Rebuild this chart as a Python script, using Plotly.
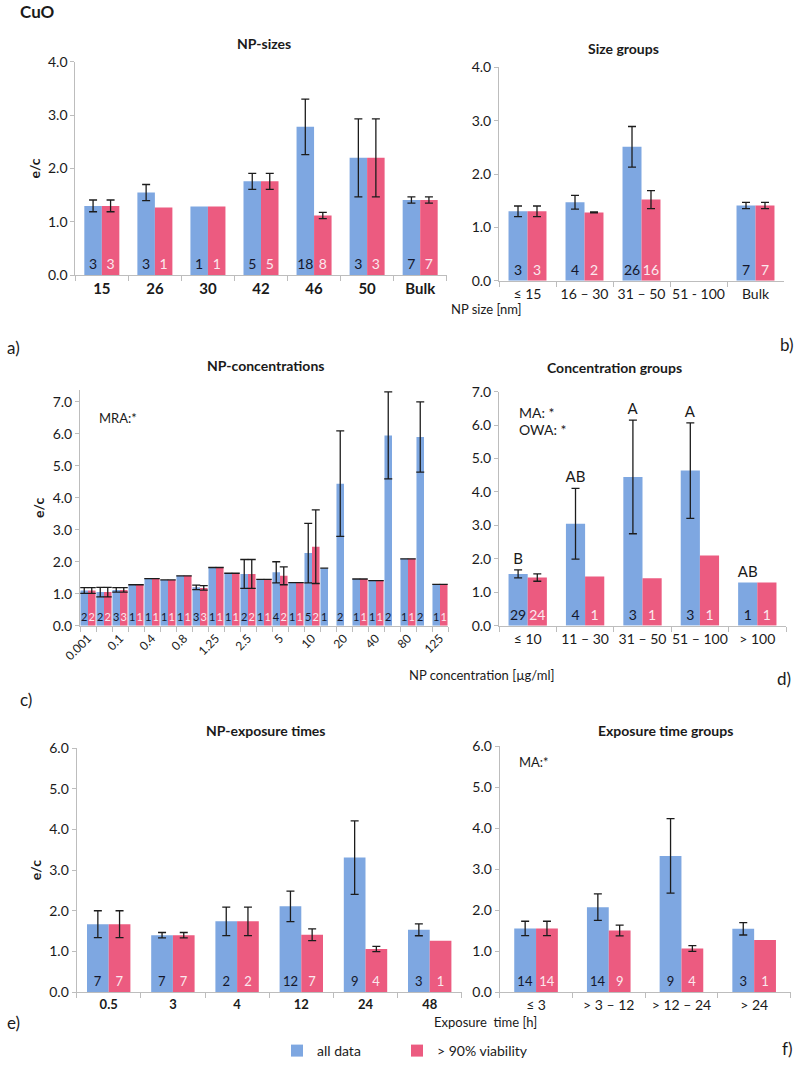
import plotly.graph_objects as go
from plotly.subplots import make_subplots

W, H = 798, 1079
FONT = "Lato"
BLUE = "#7ea7e1"
PINK = "#ec5b80"
INK = "#1a1a1a"
AXIS = "#bdbdbd"

# a) NP-sizes
size_cats = ["15", "26", "30", "42", "46", "50", "Bulk"]
size_all = [1.30, 1.55, 1.29, 1.76, 2.78, 2.20, 1.41]
size_all_err = [0.11, 0.15, None, 0.15, 0.52, 0.73, 0.06]
size_all_n = [3, 3, 1, 5, 18, 3, 7]
size_via = [1.30, 1.27, 1.29, 1.76, 1.12, 2.20, 1.41]
size_via_err = [0.11, None, None, 0.15, 0.06, 0.73, 0.06]
size_via_n = [3, 1, 1, 5, 8, 3, 7]

# b) Size groups
sgrp_cats = ["≤ 15", "16 – 30", "31 – 50", "51 - 100", "Bulk"]
sgrp_all = [1.30, 1.47, 2.51, None, 1.41]
sgrp_all_err = [0.10, 0.13, 0.38, None, 0.06]
sgrp_all_n = [3, 4, 26, None, 7]
sgrp_via = [1.30, 1.28, 1.52, None, 1.41]
sgrp_via_err = [0.10, 0.01, 0.17, None, 0.06]
sgrp_via_n = [3, 2, 16, None, 7]

# c) NP-concentrations (every other category labelled in the original)
conc_cats = ["0.001", "0.01", "0.1", "0.2", "0.4", "0.5", "0.8", "1", "1.25", "2",
             "2.5", "4", "5", "8", "10", "15", "20", "30", "40", "50", "80", "100", "125"]
conc_all = [1.10, 1.05, 1.12, 1.28, 1.47, 1.43, 1.56, 1.20, 1.82, 1.64, 1.62, 1.45,
            1.67, 1.35, 2.27, 1.80, 4.44, 1.46, 1.41, 5.95, 2.09, 5.90, 1.29]
conc_all_err = [0.09, 0.15, 0.07, 0, 0, 0, 0, 0.07, 0, 0, 0.45, 0,
                0.33, 0, 0.93, 0, 1.65, 0, 0, 1.36, 0, 1.10, 0]
conc_all_n = [2, 2, 3, 1, 1, 1, 1, 3, 1, 1, 2, 1, 4, 1, 5, 1, 2, 1, 1, 2, 1, 2, 1]
conc_via = [1.10, 1.05, 1.12, 1.28, 1.47, 1.43, 1.56, 1.18, 1.82, 1.64, 1.62, 1.45,
            1.56, 1.35, 2.47, None, None, 1.46, 1.41, None, 2.09, None, 1.29]
conc_via_err = [0.09, 0.15, 0.07, 0, 0, 0, 0, 0.07, 0, 0, 0.45, 0,
                0.28, 0, 1.15, None, None, 0, 0, None, 0, None, 0]
conc_via_n = [2, 2, 3, 1, 1, 1, 1, 3, 1, 1, 2, 1, 2, 1, 2, None, None, 1, 1, None, 1, None, 1]

# d) Concentration groups
cgrp_cats = ["≤ 10", "11 – 30", "31 – 50", "51 – 100", "> 100"]
cgrp_all = [1.55, 3.05, 4.45, 4.64, 1.29]
cgrp_all_err = [0.12, 1.06, 1.70, 1.43, None]
cgrp_all_n = [29, 4, 3, 3, 1]
cgrp_via = [1.44, 1.47, 1.42, 2.10, 1.29]
cgrp_via_err = [0.11, None, None, None, None]
cgrp_via_n = [24, 1, 1, 1, 1]
cgrp_letters = ["B", "AB", "A", "A", "AB"]

# e) NP-exposure times
time_cats = ["0.5", "3", "4", "12", "24", "48"]
time_all = [1.67, 1.40, 1.74, 2.11, 3.31, 1.53]
time_all_err = [0.33, 0.065, 0.35, 0.375, 0.905, 0.145]
time_all_n = [7, 7, 2, 12, 9, 3]
time_via = [1.67, 1.40, 1.74, 1.41, 1.06, 1.26]
time_via_err = [0.33, 0.065, 0.35, 0.145, 0.065, None]
time_via_n = [7, 7, 2, 7, 4, 1]

# f) Exposure time groups
tgrp_cats = ["≤ 3", "> 3 – 12", "> 12 – 24", "> 24"]
tgrp_all = [1.55, 2.07, 3.32, 1.54]
tgrp_all_err = [0.175, 0.325, 0.91, 0.15]
tgrp_all_n = [14, 14, 9, 3]
tgrp_via = [1.55, 1.50, 1.06, 1.27]
tgrp_via_err = [0.175, 0.13, 0.07, None]
tgrp_via_n = [14, 9, 4, 1]


def px(x):
    return x / W


def py(y):
    return 1 - y / H


fig = make_subplots(rows=3, cols=2)


def add_panel(row, col, cats, all_v, all_e, all_n, via_v, via_e, via_n,
              bw, fs, cap, legend=False):
    series = [
        ("all data", all_v, all_e, all_n, BLUE, "#15172b", -bw, "legend"),
        ("> 90% viability", via_v, via_e, via_n, PINK, "#fbe9ee", 0, "legend2"),
    ]
    for name, vals, errs, ns, color, tcol, off, leg in series:
        fig.add_trace(go.Bar(
            x=cats, y=vals, width=bw, offset=off, name=name, legend=leg,
            marker=dict(color=color, line=dict(width=0)),
            text=["" if n is None else str(n) for n in ns],
            textposition="inside", insidetextanchor="start", textangle=0,
            constraintext="none",
            textfont=dict(family=FONT, size=fs, color=tcol),
            showlegend=legend, hoverinfo="skip"), row=row, col=col)
        # error bars only where the original draws them
        keep = [i for i, e in enumerate(errs) if e is not None]
        fig.add_trace(go.Bar(
            x=[cats[i] for i in keep], y=[vals[i] for i in keep],
            width=bw, offset=off,
            marker=dict(color="rgba(0,0,0,0)", line=dict(width=0)),
            showlegend=False, hoverinfo="skip",
            error_y=dict(type="data", array=[errs[i] for i in keep],
                         color="#1c1c1c", thickness=1.3, width=cap)),
            row=row, col=col)


add_panel(1, 1, size_cats, size_all, size_all_err, size_all_n,
          size_via, size_via_err, size_via_n, 0.33, 14, 4, legend=True)
add_panel(1, 2, sgrp_cats, sgrp_all, sgrp_all_err, sgrp_all_n,
          sgrp_via, sgrp_via_err, sgrp_via_n, 0.333, 14, 4)
add_panel(2, 1, conc_cats, conc_all, conc_all_err, conc_all_n,
          conc_via, conc_via_err, conc_via_n, 0.47, 11, 4)
add_panel(2, 2, cgrp_cats, cgrp_all, cgrp_all_err, cgrp_all_n,
          cgrp_via, cgrp_via_err, cgrp_via_n, 0.334, 14, 4)
add_panel(3, 1, time_cats, time_all, time_all_err, time_all_n,
          time_via, time_via_err, time_via_n, 0.338, 13, 4)
add_panel(3, 2, tgrp_cats, tgrp_all, tgrp_all_err, tgrp_all_n,
          tgrp_via, tgrp_via_err, tgrp_via_n, 0.30, 13, 4)

# significance letters above the "all data" bars
fig.add_trace(go.Bar(
    x=cgrp_cats,
    y=[v + (e or 0) for v, e in zip(cgrp_all, cgrp_all_err)],
    width=0.334, offset=-0.334,
    marker=dict(color="rgba(0,0,0,0)", line=dict(width=0)),
    text=cgrp_letters, textposition="outside", textangle=0,
    constraintext="none", cliponaxis=False,
    textfont=dict(family=FONT, size=15, color=INK),
    showlegend=False, hoverinfo="skip"), row=2, col=2)

# axes: (row, col, x px range, y px range (top, bottom), y max, cats)
axes = [
    (1, 1, (75.3, 446.7), (61.7, 275.3), 4.0, size_cats),
    (1, 2, (499, 784), (67.3, 280.7), 4.0, sgrp_cats),
    (2, 1, (80, 448), (390, 625.7), 7.37, conc_cats),
    (2, 2, (499, 786), (391.7, 625.7), 7.0, cgrp_cats),
    (3, 1, (76.6, 461.8), (748.3, 992), 6.0, time_cats),
    (3, 2, (499.7, 790.5), (746, 992), 6.0, tgrp_cats),
]
for row, col, (x0, x1), (y0, y1), ymax, cats in axes:
    fig.update_xaxes(
        domain=[px(x0), px(x1)], type="category", categoryorder="array",
        categoryarray=cats, range=[-0.5, len(cats) - 0.5], automargin=False,
        showline=True, linecolor=AXIS, linewidth=1, showgrid=False,
        zeroline=False, ticks="outside", ticklen=5, tickcolor=AXIS,
        tickson="boundaries", tickangle=0,
        tickfont=dict(family=FONT, size=14, color=INK),
        row=row, col=col)
    fig.update_yaxes(
        domain=[py(y1), py(y0)], range=[0, ymax], dtick=1, tickformat=".1f",
        automargin=False,
        showline=True, linecolor=AXIS, linewidth=1, showgrid=False,
        zeroline=False, ticks="outside", ticklen=4, tickcolor=AXIS,
        tickfont=dict(family=FONT, size=14, color=INK),
        row=row, col=col)

fig.update_xaxes(tickfont=dict(family=FONT, size=15, color=INK, weight="bold"),
                 row=1, col=1)
fig.update_xaxes(tickfont=dict(family=FONT, size=13, color=INK, weight="bold"),
                 row=3, col=1)
fig.update_xaxes(tickvals=conc_cats,
                 ticktext=[c if i % 2 == 0 else "" for i, c in enumerate(conc_cats)],
                 tickangle=-45, tickfont=dict(family=FONT, size=12, color=INK),
                 row=2, col=1)

ytitle = dict(text="<b>e/c</b>", font=dict(family=FONT, size=14, color=INK), standoff=4)
for r in (1, 2, 3):
    fig.update_yaxes(title=ytitle, row=r, col=1)

notes = [
    ("<b>CuO</b>", 18, 11, 17, "left"),
    ("<b>NP-sizes</b>", 264, 44, 14, "center"),
    ("<b>Size groups</b>", 623, 49, 14, "center"),
    ("<b>NP-concentrations</b>", 265, 366, 14, "center"),
    ("<b>Concentration groups</b>", 614, 368, 14, "center"),
    ("<b>NP-exposure times</b>", 266, 730, 14, "center"),
    ("<b>Exposure time groups</b>", 665, 730, 14, "center"),
    ("MRA:*", 97, 418, 13, "left"),
    ("MA: *", 517, 412, 14, "left"),
    ("OWA: *", 517, 429, 14, "left"),
    ("MA:*", 517, 762, 13, "left"),
    ("NP size [nm]", 449, 309, 13, "left"),
    ("NP concentration [µg/ml]", 407, 675, 13, "left"),
    ("Exposure  time [h]", 432, 1022, 13, "left"),
    ("a)", 5, 347, 17, "left"),
    ("b)", 778, 345, 17, "left"),
    ("c)", 18, 699, 17, "left"),
    ("d)", 775, 678, 17, "left"),
    ("e)", 5, 1022, 17, "left"),
    ("f)", 780, 1048, 17, "left"),
]
for text, x, y, size, anchor in notes:
    fig.add_annotation(text=text, x=px(x), y=py(y), xref="paper", yref="paper",
                       xanchor=anchor, yanchor="middle", showarrow=False,
                       font=dict(family=FONT, size=size, color=INK))

legend_style = dict(orientation="h", xanchor="left", yanchor="top",
                    font=dict(family=FONT, size=14, color=INK),
                    bgcolor="rgba(0,0,0,0)")
fig.update_layout(
    width=W, height=H, margin=dict(l=0, r=0, t=0, b=0, autoexpand=False),
    paper_bgcolor="white", plot_bgcolor="white",
    barmode="overlay", font=dict(family=FONT, color=INK),
    legend=dict(x=px(277), y=py(1035), **legend_style),
    legend2=dict(x=px(397), y=py(1035), **legend_style),
)

# the page body has a default 8px margin; drop it so the figure sits at 0,0
fig.write_html("out.html", config={"displayModeBar": False},
               post_script="document.body.style.margin = '0px';")
